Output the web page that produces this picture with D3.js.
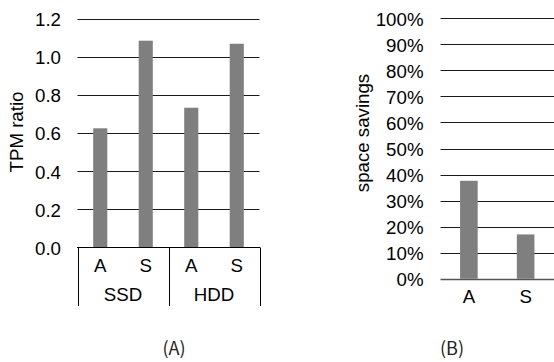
<!DOCTYPE html>
<html><head><meta charset="utf-8">
<script src="https://cdn.jsdelivr.net/npm/d3@7"></script>
<style>
html,body{margin:0;padding:0;background:#fff;}
svg{display:block;}
text{font-family:"Liberation Sans",Arial,sans-serif;font-size:18.7px;fill:#000;}
.cap{font-family:"Noto Sans CJK KR","Liberation Sans",sans-serif;font-size:18px;fill:#222;}
</style></head>
<body>
<script>
// Panel A data
const groupsA = ["SSD", "HDD"];
const seriesA = ["A", "S"];
const valuesA = [0.626, 1.086, 0.734, 1.07]; // SSD-A, SSD-S, HDD-A, HDD-S
const ticksA = [0.2, 0.4, 0.6, 0.8, 1.0, 1.2];
const titleA = "TPM ratio";
// Panel B data
const categoriesB = ["A", "S"];
const valuesB = [0.376, 0.17];
const ticksB = [0, 0.1, 0.2, 0.3, 0.4, 0.5, 0.6, 0.7, 0.8, 0.9, 1.0];
const titleB = "space savings";

const W = 554, H = 362;
const svg = d3.select("body").append("svg").attr("width", W).attr("height", H);

// ---------- Panel A ----------
const keysA = [];
groupsA.forEach(g => seriesA.forEach(s => keysA.push(g + "-" + s)));
const xA = d3.scaleBand().domain(keysA).range([77.5, 259.5]).paddingInner(0.69).paddingOuter(0.345);
const yA = d3.scaleLinear().domain([0, 1.2]).range([247.5, 19]);
const gA = svg.append("g");

// gridlines
gA.selectAll("line.grid").data(ticksA).join("line")
  .attr("x1", 77.5).attr("x2", 259.5)
  .attr("y1", d => Math.round(yA(d)) + 0.5).attr("y2", d => Math.round(yA(d)) + 0.5)
  .attr("stroke", "#1a1a1a").attr("stroke-width", 1);

// bars
gA.selectAll("rect").data(valuesA).join("rect")
  .attr("x", (d, i) => xA(keysA[i]))
  .attr("width", xA.bandwidth())
  .attr("y", d => yA(d))
  .attr("height", d => yA(0) - yA(d))
  .attr("fill", "#7f7f7f");

// y axis labels
const yAxisA = d3.axisLeft(yA).tickValues([0].concat(ticksA)).tickFormat(d3.format(".1f")).tickSize(0).tickPadding(0);
const ya = gA.append("g").attr("transform", "translate(61,0)").call(yAxisA);
ya.select(".domain").remove();
ya.selectAll("text").attr("font-size", null).attr("font-family", null).attr("fill", "#000").attr("dy", "0.36em");

// category box
const y0 = 247.5, yb = 306;
gA.append("line").attr("x1", 77).attr("x2", 260).attr("y1", y0).attr("y2", y0).attr("stroke", "#000");
const step = xA.step();
const bounds = [77.5, 77.5 + 2 * step, 77.5 + 4 * step].map(v => Math.round(v) + 0.5);
gA.selectAll("line.sep").data(bounds).join("line")
  .attr("x1", d => d).attr("x2", d => d).attr("y1", y0).attr("y2", yb)
  .attr("stroke", "#000");
gA.selectAll("text.ser").data(keysA).join("text")
  .attr("x", d => xA(d) + xA.bandwidth() / 2).attr("y", 272)
  .attr("text-anchor", "middle").text(d => d.split("-")[1]);
gA.selectAll("text.grp").data(groupsA).join("text")
  .attr("x", (d, i) => 77.5 + step * (2 * i + 1)).attr("y", 301)
  .attr("text-anchor", "middle").text(d => d);

gA.append("text").attr("transform", "translate(22.5,132) rotate(-90)")
  .attr("text-anchor", "middle").text(titleA);
svg.append("text").attr("class", "cap").attr("x", 174).attr("y", 355).attr("text-anchor", "middle").text("(A)");

// ---------- Panel B ----------
const xB = d3.scaleBand().domain(categoriesB).range([440.5, 554]).paddingInner(0.69).paddingOuter(0.345);
const yB = d3.scaleLinear().domain([0, 1]).range([278.7, 18.3]);
const gB = svg.append("g");

gB.selectAll("line.grid").data(ticksB.filter(d => d > 0)).join("line")
  .attr("x1", 440.5).attr("x2", 554)
  .attr("y1", d => Math.round(yB(d)) + 0.5).attr("y2", d => Math.round(yB(d)) + 0.5)
  .attr("stroke", "#1a1a1a").attr("stroke-width", 1);

gB.selectAll("rect").data(valuesB).join("rect")
  .attr("x", (d, i) => xB(categoriesB[i]))
  .attr("width", xB.bandwidth())
  .attr("y", d => yB(d))
  .attr("height", d => yB(0) - yB(d))
  .attr("fill", "#7f7f7f");

gB.append("line").attr("x1", 440.5).attr("x2", 554)
  .attr("y1", Math.round(yB(0)) + 0.5).attr("y2", Math.round(yB(0)) + 0.5)
  .attr("stroke", "#555").attr("stroke-width", 1.5);

const yAxisB = d3.axisLeft(yB).tickValues(ticksB).tickFormat(d3.format(".0%")).tickSize(0).tickPadding(0);
const yb2 = gB.append("g").attr("transform", "translate(423.5,0)").call(yAxisB);
yb2.select(".domain").remove();
yb2.selectAll("text").attr("font-size", null).attr("font-family", null).attr("fill", "#000").attr("dy", "0.36em");

const xAxisB = d3.axisBottom(xB).tickSize(0).tickPadding(0);
const xb2 = gB.append("g").attr("transform", "translate(0,289)").call(xAxisB);
xb2.select(".domain").remove();
xb2.selectAll("text").attr("font-size", null).attr("font-family", null).attr("fill", "#000").attr("dy", "0.75em");

gB.append("text").attr("transform", "translate(369,133) rotate(-90)")
  .attr("text-anchor", "middle").text(titleB);
svg.append("text").attr("class", "cap").attr("x", 452).attr("y", 355).attr("text-anchor", "middle").text("(B)");
</script>
</body></html>
